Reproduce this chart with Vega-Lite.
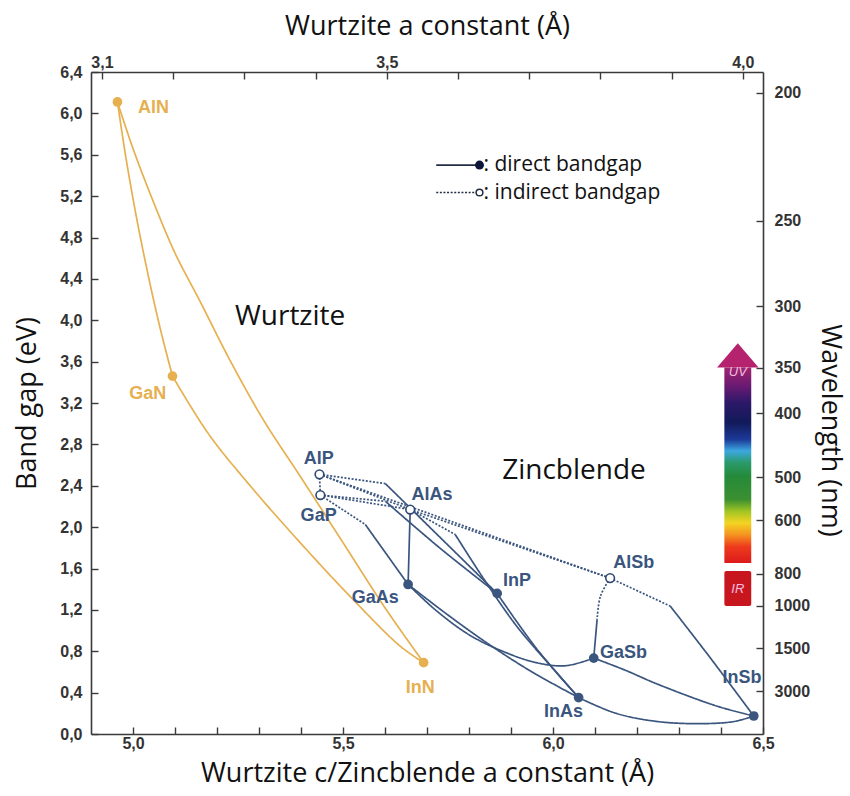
{
  "$schema": "https://vega.github.io/schema/vega-lite/v6.json",
  "width": 672,
  "height": 662,
  "autosize": {"type": "none"},
  "padding": {"left": 91, "top": 72, "right": 87, "bottom": 62},
  "background": "white",
  "config": {
    "view": {"stroke": null},
    "axis": {
      "grid": false,
      "domainColor": "#3a3a3a",
      "domainWidth": 1.6,
      "tickColor": "#3a3a3a",
      "tickWidth": 1.4,
      "tickSize": -7,
      "labelFont": "Liberation Sans",
      "labelFontWeight": "bold",
      "labelFontSize": 16,
      "labelColor": "#333333",
      "labelFlush": false,
      "labelOverlap": false,
      "labelBound": false,
      "titleFont": "Open Sans",
      "titleFontSize": 27,
      "titleFontWeight": "normal",
      "titleColor": "#111111"
    }
  },
  "datasets": {
    "curves": [
      {"seg": "AlN-GaN", "family": "wz", "gap": "direct", "i": 0, "x": 4.963, "y": 6.11},
      {"seg": "AlN-GaN", "family": "wz", "gap": "direct", "i": 1, "x": 4.982, "y": 5.6},
      {"seg": "AlN-GaN", "family": "wz", "gap": "direct", "i": 2, "x": 5.008, "y": 5.0},
      {"seg": "AlN-GaN", "family": "wz", "gap": "direct", "i": 3, "x": 5.038, "y": 4.4},
      {"seg": "AlN-GaN", "family": "wz", "gap": "direct", "i": 4, "x": 5.066, "y": 3.9},
      {"seg": "AlN-GaN", "family": "wz", "gap": "direct", "i": 5, "x": 5.094, "y": 3.46},
      {"seg": "AlN-InN", "family": "wz", "gap": "direct", "i": 0, "x": 4.963, "y": 6.11},
      {"seg": "AlN-InN", "family": "wz", "gap": "direct", "i": 1, "x": 5.0, "y": 5.66},
      {"seg": "AlN-InN", "family": "wz", "gap": "direct", "i": 2, "x": 5.05, "y": 5.13},
      {"seg": "AlN-InN", "family": "wz", "gap": "direct", "i": 3, "x": 5.1, "y": 4.65},
      {"seg": "AlN-InN", "family": "wz", "gap": "direct", "i": 4, "x": 5.16, "y": 4.18},
      {"seg": "AlN-InN", "family": "wz", "gap": "direct", "i": 5, "x": 5.23, "y": 3.62},
      {"seg": "AlN-InN", "family": "wz", "gap": "direct", "i": 6, "x": 5.31, "y": 3.04},
      {"seg": "AlN-InN", "family": "wz", "gap": "direct", "i": 7, "x": 5.4, "y": 2.48},
      {"seg": "AlN-InN", "family": "wz", "gap": "direct", "i": 8, "x": 5.5, "y": 1.85},
      {"seg": "AlN-InN", "family": "wz", "gap": "direct", "i": 9, "x": 5.6, "y": 1.22},
      {"seg": "AlN-InN", "family": "wz", "gap": "direct", "i": 10, "x": 5.692, "y": 0.69},
      {"seg": "GaN-InN", "family": "wz", "gap": "direct", "i": 0, "x": 5.094, "y": 3.46},
      {"seg": "GaN-InN", "family": "wz", "gap": "direct", "i": 1, "x": 5.18, "y": 2.9},
      {"seg": "GaN-InN", "family": "wz", "gap": "direct", "i": 2, "x": 5.279, "y": 2.4},
      {"seg": "GaN-InN", "family": "wz", "gap": "direct", "i": 3, "x": 5.398, "y": 1.85},
      {"seg": "GaN-InN", "family": "wz", "gap": "direct", "i": 4, "x": 5.517, "y": 1.33},
      {"seg": "GaN-InN", "family": "wz", "gap": "direct", "i": 5, "x": 5.636, "y": 0.85},
      {"seg": "GaN-InN", "family": "wz", "gap": "direct", "i": 6, "x": 5.692, "y": 0.69},

      {"seg": "AlP-GaP", "family": "zb", "gap": "indirect", "i": 0, "x": 5.444, "y": 2.51},
      {"seg": "AlP-GaP", "family": "zb", "gap": "indirect", "i": 1, "x": 5.446, "y": 2.31},
      {"seg": "AlP-AlAs", "family": "zb", "gap": "indirect", "i": 0, "x": 5.444, "y": 2.51},
      {"seg": "AlP-AlAs", "family": "zb", "gap": "indirect", "i": 1, "x": 5.66, "y": 2.17},
      {"seg": "AlP-AlSb", "family": "zb", "gap": "indirect", "i": 0, "x": 5.444, "y": 2.51},
      {"seg": "AlP-AlSb", "family": "zb", "gap": "indirect", "i": 1, "x": 6.136, "y": 1.507},
      {"seg": "GaP-AlAs", "family": "zb", "gap": "indirect", "i": 0, "x": 5.446, "y": 2.31},
      {"seg": "GaP-AlAs", "family": "zb", "gap": "indirect", "i": 1, "x": 5.66, "y": 2.17},
      {"seg": "AlAs-AlSb", "family": "zb", "gap": "indirect", "i": 0, "x": 5.66, "y": 2.17},
      {"seg": "AlAs-AlSb", "family": "zb", "gap": "indirect", "i": 1, "x": 6.136, "y": 1.507},
      {"seg": "AlP-InP a", "family": "zb", "gap": "indirect", "i": 0, "x": 5.444, "y": 2.51},
      {"seg": "AlP-InP a", "family": "zb", "gap": "indirect", "i": 1, "x": 5.601, "y": 2.42},
      {"seg": "AlP-InP b", "family": "zb", "gap": "direct", "i": 0, "x": 5.601, "y": 2.42},
      {"seg": "AlP-InP b", "family": "zb", "gap": "direct", "i": 1, "x": 5.867, "y": 1.359},
      {"seg": "GaP-InP a", "family": "zb", "gap": "indirect", "i": 0, "x": 5.446, "y": 2.31},
      {"seg": "GaP-InP a", "family": "zb", "gap": "indirect", "i": 1, "x": 5.601, "y": 2.25},
      {"seg": "GaP-InP b", "family": "zb", "gap": "direct", "i": 0, "x": 5.601, "y": 2.25},
      {"seg": "GaP-InP b", "family": "zb", "gap": "direct", "i": 1, "x": 5.73, "y": 1.8},
      {"seg": "GaP-InP b", "family": "zb", "gap": "direct", "i": 2, "x": 5.867, "y": 1.359},
      {"seg": "GaP-GaAs a", "family": "zb", "gap": "indirect", "i": 0, "x": 5.446, "y": 2.31},
      {"seg": "GaP-GaAs a", "family": "zb", "gap": "indirect", "i": 1, "x": 5.553, "y": 2.026},
      {"seg": "GaP-GaAs b", "family": "zb", "gap": "direct", "i": 0, "x": 5.553, "y": 2.026},
      {"seg": "GaP-GaAs b", "family": "zb", "gap": "direct", "i": 1, "x": 5.655, "y": 1.446},
      {"seg": "AlAs-GaAs", "family": "zb", "gap": "direct", "i": 0, "x": 5.66, "y": 2.17},
      {"seg": "AlAs-GaAs", "family": "zb", "gap": "direct", "i": 1, "x": 5.655, "y": 1.446},
      {"seg": "AlAs-InAs a", "family": "zb", "gap": "indirect", "i": 0, "x": 5.66, "y": 2.17},
      {"seg": "AlAs-InAs a", "family": "zb", "gap": "indirect", "i": 1, "x": 5.767, "y": 1.93},
      {"seg": "AlAs-InAs b", "family": "zb", "gap": "direct", "i": 0, "x": 5.767, "y": 1.93},
      {"seg": "AlAs-InAs b", "family": "zb", "gap": "direct", "i": 1, "x": 5.835, "y": 1.5},
      {"seg": "AlAs-InAs b", "family": "zb", "gap": "direct", "i": 2, "x": 5.914, "y": 1.04},
      {"seg": "AlAs-InAs b", "family": "zb", "gap": "direct", "i": 3, "x": 5.994, "y": 0.66},
      {"seg": "AlAs-InAs b", "family": "zb", "gap": "direct", "i": 4, "x": 6.061, "y": 0.352},
      {"seg": "GaAs-InAs", "family": "zb", "gap": "direct", "i": 0, "x": 5.655, "y": 1.446},
      {"seg": "GaAs-InAs", "family": "zb", "gap": "direct", "i": 1, "x": 5.75, "y": 1.15},
      {"seg": "GaAs-InAs", "family": "zb", "gap": "direct", "i": 2, "x": 5.85, "y": 0.86},
      {"seg": "GaAs-InAs", "family": "zb", "gap": "direct", "i": 3, "x": 5.95, "y": 0.6},
      {"seg": "GaAs-InAs", "family": "zb", "gap": "direct", "i": 4, "x": 6.061, "y": 0.352},
      {"seg": "GaAs-GaSb", "family": "zb", "gap": "direct", "i": 0, "x": 5.655, "y": 1.446},
      {"seg": "GaAs-GaSb", "family": "zb", "gap": "direct", "i": 1, "x": 5.72, "y": 1.2},
      {"seg": "GaAs-GaSb", "family": "zb", "gap": "direct", "i": 2, "x": 5.8, "y": 0.96},
      {"seg": "GaAs-GaSb", "family": "zb", "gap": "direct", "i": 3, "x": 5.88, "y": 0.8},
      {"seg": "GaAs-GaSb", "family": "zb", "gap": "direct", "i": 4, "x": 5.96, "y": 0.69},
      {"seg": "GaAs-GaSb", "family": "zb", "gap": "direct", "i": 5, "x": 6.03, "y": 0.66},
      {"seg": "GaAs-GaSb", "family": "zb", "gap": "direct", "i": 6, "x": 6.097, "y": 0.734},
      {"seg": "InP-InAs", "family": "zb", "gap": "direct", "i": 0, "x": 5.867, "y": 1.359},
      {"seg": "InP-InAs", "family": "zb", "gap": "direct", "i": 1, "x": 5.96, "y": 0.83},
      {"seg": "InP-InAs", "family": "zb", "gap": "direct", "i": 2, "x": 6.061, "y": 0.352},
      {"seg": "InAs-InSb", "family": "zb", "gap": "direct", "i": 0, "x": 6.061, "y": 0.352},
      {"seg": "InAs-InSb", "family": "zb", "gap": "direct", "i": 1, "x": 6.15, "y": 0.2},
      {"seg": "InAs-InSb", "family": "zb", "gap": "direct", "i": 2, "x": 6.25, "y": 0.12},
      {"seg": "InAs-InSb", "family": "zb", "gap": "direct", "i": 3, "x": 6.35, "y": 0.1},
      {"seg": "InAs-InSb", "family": "zb", "gap": "direct", "i": 4, "x": 6.43, "y": 0.12},
      {"seg": "InAs-InSb", "family": "zb", "gap": "direct", "i": 5, "x": 6.478, "y": 0.174},
      {"seg": "GaSb-InSb", "family": "zb", "gap": "direct", "i": 0, "x": 6.097, "y": 0.734},
      {"seg": "GaSb-InSb", "family": "zb", "gap": "direct", "i": 1, "x": 6.17, "y": 0.62},
      {"seg": "GaSb-InSb", "family": "zb", "gap": "direct", "i": 2, "x": 6.25, "y": 0.48},
      {"seg": "GaSb-InSb", "family": "zb", "gap": "direct", "i": 3, "x": 6.39, "y": 0.27},
      {"seg": "GaSb-InSb", "family": "zb", "gap": "direct", "i": 4, "x": 6.478, "y": 0.174},
      {"seg": "AlSb-InSb a", "family": "zb", "gap": "indirect", "i": 0, "x": 6.136, "y": 1.507},
      {"seg": "AlSb-InSb a", "family": "zb", "gap": "indirect", "i": 1, "x": 6.279, "y": 1.237},
      {"seg": "AlSb-InSb b", "family": "zb", "gap": "direct", "i": 0, "x": 6.279, "y": 1.237},
      {"seg": "AlSb-InSb b", "family": "zb", "gap": "direct", "i": 1, "x": 6.37, "y": 0.76},
      {"seg": "AlSb-InSb b", "family": "zb", "gap": "direct", "i": 2, "x": 6.478, "y": 0.174},
      {"seg": "AlSb-GaSb a", "family": "zb", "gap": "indirect", "i": 0, "x": 6.136, "y": 1.507},
      {"seg": "AlSb-GaSb a", "family": "zb", "gap": "indirect", "i": 1, "x": 6.113, "y": 1.333},
      {"seg": "AlSb-GaSb a", "family": "zb", "gap": "indirect", "i": 2, "x": 6.105, "y": 1.108},
      {"seg": "AlSb-GaSb b", "family": "zb", "gap": "direct", "i": 0, "x": 6.105, "y": 1.108},
      {"seg": "AlSb-GaSb b", "family": "zb", "gap": "direct", "i": 1, "x": 6.097, "y": 0.734}
    ],
    "compounds": [
      {"name": "AlN", "family": "wz", "gap": "direct", "x": 4.963, "y": 6.11, "a_wz": 3.12, "lx": 5.049, "ly": 6.05},
      {"name": "GaN", "family": "wz", "gap": "direct", "x": 5.094, "y": 3.46, "a_wz": 3.2, "lx": 5.035, "ly": 3.29},
      {"name": "InN", "family": "wz", "gap": "direct", "x": 5.692, "y": 0.69, "a_wz": 3.55, "lx": 5.684, "ly": 0.448},
      {"name": "AlP", "family": "zb", "gap": "indirect", "x": 5.444, "y": 2.51, "lx": 5.442, "ly": 2.66},
      {"name": "GaP", "family": "zb", "gap": "indirect", "x": 5.446, "y": 2.31, "lx": 5.442, "ly": 2.106},
      {"name": "AlAs", "family": "zb", "gap": "indirect", "x": 5.66, "y": 2.17, "lx": 5.712, "ly": 2.306},
      {"name": "AlSb", "family": "zb", "gap": "indirect", "x": 6.136, "y": 1.507, "lx": 6.192, "ly": 1.656},
      {"name": "GaAs", "family": "zb", "gap": "direct", "x": 5.655, "y": 1.446, "lx": 5.577, "ly": 1.318},
      {"name": "InP", "family": "zb", "gap": "direct", "x": 5.867, "y": 1.359, "lx": 5.914, "ly": 1.478},
      {"name": "GaSb", "family": "zb", "gap": "direct", "x": 6.097, "y": 0.734, "lx": 6.168, "ly": 0.78},
      {"name": "InAs", "family": "zb", "gap": "direct", "x": 6.061, "y": 0.352, "lx": 6.025, "ly": 0.213},
      {"name": "InSb", "family": "zb", "gap": "direct", "x": 6.478, "y": 0.174, "lx": 6.45, "ly": 0.545}
    ],
    "regions": [
      {"text": "Wurtzite", "x": 5.374, "y": 4.03},
      {"text": "Zincblende", "x": 6.05, "y": 2.54}
    ],
    "key": [
      {"label": ": direct bandgap", "gap": "direct", "x": 5.722, "x2": 5.825, "y": 5.5},
      {"label": ": indirect bandgap", "gap": "indirect", "x": 5.722, "x2": 5.825, "y": 5.235}
    ],
    "spectrum": [
      {"part": "visible", "x": 6.408, "x2": 6.472, "y": 3.543, "y2": 1.653, "tip": 6.44, "text": "UV", "ty": 3.5},
      {"part": "IR", "x": 6.408, "x2": 6.472, "y": 1.575, "y2": 1.237, "tip": 6.44, "text": "IR", "ty": 1.405}
    ]
  },
  "layer": [
    {
      "layer": [
        {
          "data": {"name": "spectrum"},
          "transform": [{"filter": "datum.part == 'visible'"}],
          "mark": {
            "type": "rect",
            "color": {
              "gradient": "linear", "x1": 0, "y1": 0, "x2": 0, "y2": 1,
              "stops": [
                {"offset": 0, "color": "#a0246e"},
                {"offset": 0.094, "color": "#6a1a72"},
                {"offset": 0.18, "color": "#2c1868"},
                {"offset": 0.28, "color": "#121a5a"},
                {"offset": 0.368, "color": "#1c3a98"},
                {"offset": 0.427, "color": "#3ca8e0"},
                {"offset": 0.487, "color": "#2a9a6a"},
                {"offset": 0.556, "color": "#248a3a"},
                {"offset": 0.675, "color": "#3c9030"},
                {"offset": 0.735, "color": "#a0c424"},
                {"offset": 0.795, "color": "#f4d422"},
                {"offset": 0.855, "color": "#f49420"},
                {"offset": 0.915, "color": "#ee3c1c"},
                {"offset": 1, "color": "#dc1a1c"}
              ]
            }
          },
          "encoding": {
            "x": {
              "field": "x", "type": "quantitative",
              "scale": {"domain": [4.9, 6.5], "nice": false, "zero": false},
              "axis": {
                "orient": "bottom",
                "title": "Wurtzite c/Zincblende a constant (Å)",
                "values": [5.0, 5.1, 5.2, 5.3, 5.4, 5.5, 5.6, 5.7, 5.8, 5.9, 6.0, 6.1, 6.2, 6.3, 6.4, 6.5],
                "labelExpr": "round(datum.value*10) % 5 == 0 ? replace(format(datum.value, '.1f'), '.', ',') : ''",
                "labelPadding": 8,
                "titlePadding": 9
              }
            },
            "x2": {"field": "x2"},
            "y": {
              "field": "y", "type": "quantitative",
              "scale": {"domain": [0, 6.4], "nice": false, "zero": false},
              "axis": {
                "orient": "left",
                "title": "Band gap (eV)",
                "values": [0, 0.4, 0.8, 1.2, 1.6, 2.0, 2.4, 2.8, 3.2, 3.6, 4.0, 4.4, 4.8, 5.2, 5.6, 6.0, 6.4],
                "labelExpr": "replace(format(datum.value, '.1f'), '.', ',')",
                "labelPadding": 16,
                "titlePadding": 18
              }
            },
            "y2": {"field": "y2"}
          }
        },
        {
          "data": {"name": "spectrum"},
          "transform": [{"filter": "datum.part == 'IR'"}],
          "mark": {"type": "rect", "color": "#c8161e", "cornerRadius": 2},
          "encoding": {
            "x": {"field": "x", "type": "quantitative"},
            "x2": {"field": "x2"},
            "y": {"field": "y", "type": "quantitative"},
            "y2": {"field": "y2"}
          }
        },
        {
          "data": {"name": "spectrum"},
          "transform": [{"filter": "datum.part == 'visible'"}],
          "mark": {"type": "point", "shape": "M-1,0L1,0L0,-1.17Z", "size": 1730, "filled": true, "color": "#b5236f", "opacity": 1},
          "encoding": {
            "x": {"field": "tip", "type": "quantitative"},
            "y": {"field": "y", "type": "quantitative"}
          }
        },
        {
          "data": {"name": "spectrum"},
          "mark": {"type": "text", "font": "Liberation Sans", "fontStyle": "italic", "fontSize": 13, "color": "#f3bde0", "baseline": "middle", "align": "center"},
          "encoding": {
            "x": {"field": "tip", "type": "quantitative"},
            "y": {"field": "ty", "type": "quantitative"},
            "text": {"field": "text"}
          }
        },
        {
          "data": {"name": "curves"},
          "mark": {"type": "line", "interpolate": "catmull-rom", "strokeWidth": 1.7},
          "encoding": {
            "x": {"field": "x", "type": "quantitative"},
            "y": {"field": "y", "type": "quantitative"},
            "detail": {"field": "seg"},
            "order": {"field": "i", "type": "quantitative"},
            "color": {"field": "family", "type": "nominal", "scale": {"domain": ["wz", "zb"], "range": ["#e6b050", "#3a557e"]}, "legend": null},
            "strokeDash": {"field": "gap", "type": "nominal", "scale": {"domain": ["direct", "indirect"], "range": [[1, 0], [2, 1.6]]}, "legend": null}
          }
        },
        {
          "data": {"name": "compounds"},
          "transform": [{"filter": "datum.gap == 'direct'"}],
          "mark": {"type": "circle", "size": 95, "opacity": 1},
          "encoding": {
            "x": {"field": "x", "type": "quantitative"},
            "y": {"field": "y", "type": "quantitative"},
            "color": {"field": "family", "type": "nominal", "scale": {"domain": ["wz", "zb"], "range": ["#d9822b", "#0b1638"]}, "legend": null}
          }
        },
        {
          "data": {"name": "compounds"},
          "transform": [{"filter": "datum.gap == 'indirect'"}],
          "mark": {"type": "point", "shape": "circle", "size": 75, "filled": true, "fill": "white", "stroke": "#2f4a72", "strokeWidth": 1.6, "opacity": 1},
          "encoding": {
            "x": {"field": "x", "type": "quantitative"},
            "y": {"field": "y", "type": "quantitative"}
          }
        },
        {
          "data": {"name": "compounds"},
          "mark": {"type": "text", "font": "Liberation Sans", "fontWeight": "bold", "fontSize": 18, "baseline": "middle", "align": "center"},
          "encoding": {
            "x": {"field": "lx", "type": "quantitative"},
            "y": {"field": "ly", "type": "quantitative"},
            "text": {"field": "name"},
            "color": {"field": "family", "type": "nominal", "scale": {"domain": ["wz", "zb"], "range": ["#e2a43c", "#1c2b57"]}, "legend": null}
          }
        },
        {
          "data": {"name": "regions"},
          "mark": {"type": "text", "font": "Open Sans", "fontSize": 28, "color": "#111111", "baseline": "middle", "align": "center"},
          "encoding": {
            "x": {"field": "x", "type": "quantitative"},
            "y": {"field": "y", "type": "quantitative"},
            "text": {"field": "text"}
          }
        },
        {
          "data": {"name": "key"},
          "mark": {"type": "rule", "strokeWidth": 1.7, "color": "#222c44"},
          "encoding": {
            "x": {"field": "x", "type": "quantitative"},
            "x2": {"field": "x2"},
            "y": {"field": "y", "type": "quantitative"},
            "strokeDash": {"field": "gap", "type": "nominal", "scale": {"domain": ["direct", "indirect"], "range": [[1, 0], [2, 1.6]]}, "legend": null}
          }
        },
        {
          "data": {"name": "key"},
          "transform": [{"filter": "datum.gap == 'direct'"}],
          "mark": {"type": "circle", "size": 80, "color": "#0b1638", "opacity": 1},
          "encoding": {
            "x": {"field": "x2", "type": "quantitative"},
            "y": {"field": "y", "type": "quantitative"}
          }
        },
        {
          "data": {"name": "key"},
          "transform": [{"filter": "datum.gap == 'indirect'"}],
          "mark": {"type": "point", "shape": "circle", "size": 45, "filled": true, "fill": "white", "stroke": "#222c44", "strokeWidth": 1.5, "opacity": 1},
          "encoding": {
            "x": {"field": "x2", "type": "quantitative"},
            "y": {"field": "y", "type": "quantitative"}
          }
        },
        {
          "data": {"name": "key"},
          "mark": {"type": "text", "font": "Open Sans", "fontSize": 21, "color": "#111111", "baseline": "middle", "align": "left", "dx": 4},
          "encoding": {
            "x": {"field": "x2", "type": "quantitative"},
            "y": {"field": "y", "type": "quantitative"},
            "text": {"field": "label"}
          }
        }
      ]
    },
    {
      "data": {"name": "compounds"},
      "transform": [{"filter": "isValid(datum.a_wz)"}],
      "mark": {"type": "point", "opacity": 0},
      "encoding": {
        "x": {
          "field": "a_wz", "type": "quantitative",
          "scale": {"domain": [3.0846, 4.0284], "nice": false, "zero": false},
          "axis": {
            "orient": "top",
            "title": "Wurtzite a constant (Å)",
            "values": [3.1, 3.2, 3.3, 3.4, 3.5, 3.6, 3.7, 3.8, 3.9, 4.0],
            "labelExpr": "(round(datum.value*10) == 31 || round(datum.value*10) == 35 || round(datum.value*10) == 40) ? replace(format(datum.value, '.1f'), '.', ',') : ''",
            "labelPadding": 9,
            "titlePadding": 14
          }
        },
        "y": {
          "field": "y", "type": "quantitative",
          "scale": {"domain": [0, 6.4], "nice": false, "zero": false},
          "axis": {
            "orient": "right",
            "title": "Wavelength (nm)",
            "values": [6.2, 4.96, 4.133333, 3.542857, 3.1, 2.48, 2.066667, 1.55, 1.24, 0.826667, 0.413333],
            "labelExpr": "format(round(1240/datum.value), 'd')",
            "labelPadding": 18,
            "titlePadding": 6,
            "titleY": 358
          }
        }
      }
    }
  ],
  "resolve": {"scale": {"x": "independent"}, "axis": {"x": "independent", "y": "independent"}}
}
